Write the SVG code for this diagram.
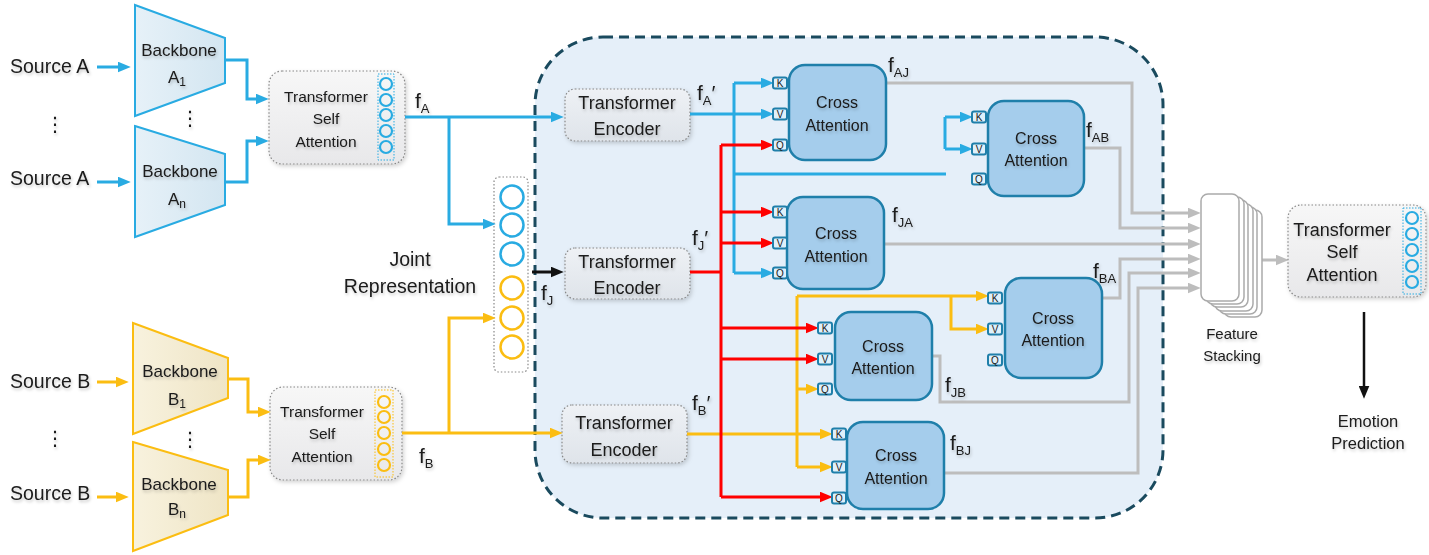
<svg xmlns="http://www.w3.org/2000/svg" width="1429" height="555" viewBox="0 0 1429 555">
<style>
text{font-family:"Liberation Sans",Arial,sans-serif;fill:#1a1a1a;text-anchor:middle}
.src{font-size:19.5px;text-anchor:start}
.bb{font-size:17px}
.sub{font-size:12px}
.tsa{font-size:15.5px}
.te{font-size:18px}
.jr{font-size:19.5px}
.ca{font-size:16px}
.lbl{font-size:21px;text-anchor:start}
.lbl .s{font-size:13px}
.port{font-size:10px}
.cap{font-size:15px}
.emo{font-size:16.5px}
.dots{font-family:"DejaVu Sans",sans-serif;font-size:20px}
.tb{fill:url(#gb);stroke:#888;stroke-width:1.2;stroke-dasharray:1.5 2}
.tsab{fill:url(#gg);stroke:#888;stroke-width:1.2;stroke-dasharray:1.5 2}
.cab{fill:#a5cdec;stroke:#1f7faa;stroke-width:2.5}
.pt{fill:#dff0fa;stroke:#1f7faa;stroke-width:2}
.ln{fill:none;stroke-width:3}
.b{stroke:#29abe2}
.y{stroke:#fbbd12}
.r{stroke:#ff0000}
.g{stroke:#bdbdbd}
.k{stroke:#111}
.sh{filter:url(#ts)}
</style>
<defs>
<filter id="ts" x="-20%" y="-30%" width="140%" height="160%"><feDropShadow dx="1" dy="2" stdDeviation="1.5" flood-color="#000" flood-opacity="0.22"/></filter>
<filter id="bs" x="-10%" y="-10%" width="130%" height="130%"><feDropShadow dx="1.5" dy="2" stdDeviation="2" flood-color="#000" flood-opacity="0.18"/></filter>
<linearGradient id="gb" x1="0" y1="0" x2="0" y2="1"><stop offset="0" stop-color="#eef1f5"/><stop offset="1" stop-color="#dfe4ea"/></linearGradient>
<linearGradient id="gg" x1="0" y1="0" x2="0" y2="1"><stop offset="0" stop-color="#f7f7f7"/><stop offset="1" stop-color="#e8e8ea"/></linearGradient>
<linearGradient id="gbl" x1="0" y1="0" x2="1" y2="0"><stop offset="0" stop-color="#e6f1f8"/><stop offset="1" stop-color="#d4e6f1"/></linearGradient>
<linearGradient id="gyl" x1="0" y1="0" x2="1" y2="0"><stop offset="0" stop-color="#f8f2de"/><stop offset="1" stop-color="#efe5c6"/></linearGradient>
<marker id="mb" viewBox="0 0 12 10" refX="3" refY="5" markerWidth="13" markerHeight="11" markerUnits="userSpaceOnUse" orient="auto"><path d="M0,0 L12,5 L0,10 z" fill="#29abe2"/></marker>
<marker id="my" viewBox="0 0 12 10" refX="3" refY="5" markerWidth="13" markerHeight="11" markerUnits="userSpaceOnUse" orient="auto"><path d="M0,0 L12,5 L0,10 z" fill="#fbbd12"/></marker>
<marker id="mr" viewBox="0 0 12 10" refX="3" refY="5" markerWidth="13" markerHeight="11" markerUnits="userSpaceOnUse" orient="auto"><path d="M0,0 L12,5 L0,10 z" fill="#ff0000"/></marker>
<marker id="mg" viewBox="0 0 12 10" refX="3" refY="5" markerWidth="13" markerHeight="11" markerUnits="userSpaceOnUse" orient="auto"><path d="M0,0 L12,5 L0,10 z" fill="#bdbdbd"/></marker>
<marker id="mk" viewBox="0 0 12 10" refX="3" refY="5" markerWidth="13" markerHeight="11" markerUnits="userSpaceOnUse" orient="auto"><path d="M0,0 L12,5 L0,10 z" fill="#111"/></marker>
</defs>

<rect width="1429" height="555" fill="#fff"/>

<g id="fusion-container">
<rect x="535" y="37" width="628" height="481" rx="68" fill="#e5eff9" stroke="#1a4a5e" stroke-width="3" stroke-dasharray="10 6"/>
</g>

<g id="sources" class="sh">
<text class="src" x="10" y="73">Source A</text>
<text class="src" x="10" y="185">Source A</text>
<text class="src" x="10" y="388">Source B</text>
<text class="src" x="10" y="500">Source B</text>
<text class="dots" x="55" y="131">⋮</text>
<text class="dots" x="190" y="125">⋮</text>
<text class="dots" x="55" y="445">⋮</text>
<text class="dots" x="190" y="446">⋮</text>
</g>

<g id="backbone-a1">
<polygon points="135,5 225,38 225,83 135,116" fill="url(#gbl)" stroke="#29abe2" stroke-width="2"/>
<text class="bb sh" x="179" y="56">Backbone</text>
<text class="bb sh" x="177" y="83">A<tspan class="sub" dy="3">1</tspan></text>
</g>
<g id="backbone-an">
<polygon points="135,126 225,154 225,205 135,237" fill="url(#gbl)" stroke="#29abe2" stroke-width="2"/>
<text class="bb sh" x="180" y="177">Backbone</text>
<text class="bb sh" x="177" y="205">A<tspan class="sub" dy="3">n</tspan></text>
</g>
<g id="backbone-b1">
<polygon points="133,323 228,358 228,398 133,434" fill="url(#gyl)" stroke="#fbbd12" stroke-width="2"/>
<text class="bb sh" x="180" y="377">Backbone</text>
<text class="bb sh" x="177" y="405">B<tspan class="sub" dy="3">1</tspan></text>
</g>
<g id="backbone-bn">
<polygon points="133,442 228,470 228,515 133,551" fill="url(#gyl)" stroke="#fbbd12" stroke-width="2"/>
<text class="bb sh" x="179" y="490">Backbone</text>
<text class="bb sh" x="177" y="515">B<tspan class="sub" dy="3">n</tspan></text>
</g>

<g id="tsa-a">
<rect class="tsab" x="269" y="71" width="136" height="93" rx="13" filter="url(#bs)"/>
<text class="tsa sh" x="326" y="102">Transformer</text>
<text class="tsa sh" x="326" y="124">Self</text>
<text class="tsa sh" x="326" y="147">Attention</text>
<rect x="378" y="74" width="16" height="86" fill="none" stroke="#29abe2" stroke-width="1" stroke-dasharray="1.5 1.5"/>
<g fill="none" stroke="#29abe2" stroke-width="2.2"><circle cx="386" cy="84" r="6"/><circle cx="386" cy="100" r="6"/><circle cx="386" cy="115" r="6"/><circle cx="386" cy="131" r="6"/><circle cx="386" cy="147" r="6"/></g>
</g>
<g id="tsa-b">
<rect class="tsab" x="270" y="387" width="132" height="93" rx="13" filter="url(#bs)"/>
<text class="tsa sh" x="322" y="417">Transformer</text>
<text class="tsa sh" x="322" y="439">Self</text>
<text class="tsa sh" x="322" y="462">Attention</text>
<rect x="375" y="390" width="18" height="87" fill="none" stroke="#fbbd12" stroke-width="1" stroke-dasharray="1.5 1.5"/>
<g fill="none" stroke="#fbbd12" stroke-width="2.2"><circle cx="384" cy="402" r="6"/><circle cx="384" cy="417" r="6"/><circle cx="384" cy="433" r="6"/><circle cx="384" cy="449" r="6"/><circle cx="384" cy="465" r="6"/></g>
</g>

<g id="joint-representation">
<text class="jr sh" x="410" y="266">Joint</text>
<text class="jr sh" x="410" y="293">Representation</text>
<rect x="494" y="177" width="34" height="195" rx="5" fill="#fff" stroke="#888" stroke-width="1.2" stroke-dasharray="1.5 2"/>
<g fill="none" stroke-width="2.5">
<circle cx="512" cy="197" r="11.5" stroke="#29abe2"/><circle cx="512" cy="225" r="11.5" stroke="#29abe2"/><circle cx="512" cy="254" r="11.5" stroke="#29abe2"/>
<circle cx="512" cy="288" r="11.5" stroke="#fbbd12"/><circle cx="512" cy="318" r="11.5" stroke="#fbbd12"/><circle cx="512" cy="347" r="11.5" stroke="#fbbd12"/>
</g>
</g>

<g id="te-a"><rect class="tb" x="565" y="89" width="125" height="52" rx="10" filter="url(#bs)"/><text class="te sh" x="627" y="109">Transformer</text><text class="te sh" x="627" y="135">Encoder</text></g>
<g id="te-j"><rect class="tb" x="565" y="248" width="125" height="51" rx="10" filter="url(#bs)"/><text class="te sh" x="627" y="268">Transformer</text><text class="te sh" x="627" y="294">Encoder</text></g>
<g id="te-b"><rect class="tb" x="562" y="405" width="125" height="58" rx="10" filter="url(#bs)"/><text class="te sh" x="624" y="429">Transformer</text><text class="te sh" x="624" y="456">Encoder</text></g>

<g id="connectors">
<g class="ln b">
<path d="M97,67 H121" marker-end="url(#mb)"/>
<path d="M97,182 H121" marker-end="url(#mb)"/>
<path d="M225,60 H247 V99 H259" marker-end="url(#mb)"/>
<path d="M225,182 H247 V141 H259" marker-end="url(#mb)"/>
<path d="M405,117 H554" marker-end="url(#mb)"/>
<path d="M449,117 V224 H486" marker-end="url(#mb)"/>
<path d="M690,114 H764" marker-end="url(#mb)"/>
<path d="M734,83 V273"/>
<path d="M734,83 H764" marker-end="url(#mb)"/>
<path d="M734,273 H764" marker-end="url(#mb)"/>
<path d="M734,174 H946"/>
<path d="M945,117 V149"/>
<path d="M945,117 H963" marker-end="url(#mb)"/>
<path d="M945,149 H963" marker-end="url(#mb)"/>
</g>
<g class="ln y">
<path d="M97,382 H119" marker-end="url(#my)"/>
<path d="M97,497 H119" marker-end="url(#my)"/>
<path d="M228,379 H248 V412 H261" marker-end="url(#my)"/>
<path d="M228,497 H248 V460 H261" marker-end="url(#my)"/>
<path d="M402,433 H553" marker-end="url(#my)"/>
<path d="M449,433 V318 H486" marker-end="url(#my)"/>
<path d="M687,434 H823" marker-end="url(#my)"/>
<path d="M797,296 V467"/>
<path d="M797,296 H979" marker-end="url(#my)"/>
<path d="M951,296 V329 H979" marker-end="url(#my)"/>
<path d="M797,389 H809" marker-end="url(#my)"/>
<path d="M797,467 H823" marker-end="url(#my)"/>
</g>
<g class="ln r">
<path d="M690,272 H721"/>
<path d="M721,145 V497"/>
<path d="M721,145 H764" marker-end="url(#mr)"/>
<path d="M721,212 H764" marker-end="url(#mr)"/>
<path d="M721,243 H764" marker-end="url(#mr)"/>
<path d="M721,328 H809" marker-end="url(#mr)"/>
<path d="M721,359 H809" marker-end="url(#mr)"/>
<path d="M721,497 H823" marker-end="url(#mr)"/>
</g>
<g class="ln k">
<path d="M532,272 H554" marker-end="url(#mk)"/>
<path d="M1364,312 V389" stroke-width="2.5" marker-end="url(#mk)"/>
</g>
<g class="ln g">
<path d="M886,83 H1132 V213 H1191" marker-end="url(#mg)"/>
<path d="M1084,148 H1120 V228 H1191" marker-end="url(#mg)"/>
<path d="M884,244 H1191" marker-end="url(#mg)"/>
<path d="M1102,298 H1120 V259 H1191" marker-end="url(#mg)"/>
<path d="M932,356 H940 V402 H1129 V273 H1191" marker-end="url(#mg)"/>
<path d="M944,473 H1138 V288 H1191" marker-end="url(#mg)"/>
<path d="M1262,260 H1279" marker-end="url(#mg)"/>
</g>
</g>

<g id="ca-aj">
<rect class="cab" x="789" y="65" width="97" height="95" rx="16"/>
<text class="ca sh" x="837" y="108">Cross</text><text class="ca sh" x="837" y="131">Attention</text>
<rect class="pt" x="773" y="77.5" width="14" height="11" rx="2"/><text class="port" x="780" y="86.5">K</text>
<rect class="pt" x="773" y="108.5" width="14" height="11" rx="2"/><text class="port" x="780" y="117.5">V</text>
<rect class="pt" x="773" y="139.5" width="14" height="11" rx="2"/><text class="port" x="780" y="148.5">Q</text>
</g>
<g id="ca-ja">
<rect class="cab" x="787" y="197" width="97" height="92" rx="16"/>
<text class="ca sh" x="836" y="239">Cross</text><text class="ca sh" x="836" y="262">Attention</text>
<rect class="pt" x="773" y="206.5" width="14" height="11" rx="2"/><text class="port" x="780" y="215.5">K</text>
<rect class="pt" x="773" y="237.5" width="14" height="11" rx="2"/><text class="port" x="780" y="246.5">V</text>
<rect class="pt" x="773" y="267.5" width="14" height="11" rx="2"/><text class="port" x="780" y="276.5">Q</text>
</g>
<g id="ca-ab">
<rect class="cab" x="988" y="101" width="96" height="95" rx="16"/>
<text class="ca sh" x="1036" y="144">Cross</text><text class="ca sh" x="1036" y="166">Attention</text>
<rect class="pt" x="972" y="111.5" width="14" height="11" rx="2"/><text class="port" x="979" y="120.5">K</text>
<rect class="pt" x="972" y="143.5" width="14" height="11" rx="2"/><text class="port" x="979" y="152.5">V</text>
<rect class="pt" x="972" y="173.5" width="14" height="11" rx="2"/><text class="port" x="979" y="182.5">Q</text>
</g>
<g id="ca-ba">
<rect class="cab" x="1005" y="278" width="97" height="100" rx="16"/>
<text class="ca sh" x="1053" y="324">Cross</text><text class="ca sh" x="1053" y="346">Attention</text>
<rect class="pt" x="988" y="292.5" width="14" height="11" rx="2"/><text class="port" x="995" y="301.5">K</text>
<rect class="pt" x="988" y="323.5" width="14" height="11" rx="2"/><text class="port" x="995" y="332.5">V</text>
<rect class="pt" x="988" y="354.5" width="14" height="11" rx="2"/><text class="port" x="995" y="363.5">Q</text>
</g>
<g id="ca-jb">
<rect class="cab" x="835" y="312" width="97" height="88" rx="16"/>
<text class="ca sh" x="883" y="352">Cross</text><text class="ca sh" x="883" y="374">Attention</text>
<rect class="pt" x="818" y="322.5" width="14" height="11" rx="2"/><text class="port" x="825" y="331.5">K</text>
<rect class="pt" x="818" y="353.5" width="14" height="11" rx="2"/><text class="port" x="825" y="362.5">V</text>
<rect class="pt" x="818" y="383.5" width="14" height="11" rx="2"/><text class="port" x="825" y="392.5">Q</text>
</g>
<g id="ca-bj">
<rect class="cab" x="847" y="422" width="97" height="87" rx="16"/>
<text class="ca sh" x="896" y="461">Cross</text><text class="ca sh" x="896" y="484">Attention</text>
<rect class="pt" x="832" y="428.5" width="14" height="11" rx="2"/><text class="port" x="839" y="437.5">K</text>
<rect class="pt" x="832" y="461.5" width="14" height="11" rx="2"/><text class="port" x="839" y="470.5">V</text>
<rect class="pt" x="832" y="492.5" width="14" height="11" rx="2"/><text class="port" x="839" y="501.5">Q</text>
</g>

<g id="labels" class="sh">
<text class="lbl" x="415" y="108">f<tspan class="s" dy="5">A</tspan></text>
<text class="lbl" x="419" y="463">f<tspan class="s" dy="5">B</tspan></text>
<text class="lbl" x="541" y="300">f<tspan class="s" dy="5">J</tspan></text>
<text class="lbl" x="697" y="100">f<tspan class="s" dy="5">A</tspan><tspan dy="-5">′</tspan></text>
<text class="lbl" x="692" y="245">f<tspan class="s" dy="5">J</tspan><tspan dy="-5">′</tspan></text>
<text class="lbl" x="692" y="410">f<tspan class="s" dy="5">B</tspan><tspan dy="-5">′</tspan></text>
<text class="lbl" x="888" y="72">f<tspan class="s" dy="5">AJ</tspan></text>
<text class="lbl" x="892" y="222">f<tspan class="s" dy="5">JA</tspan></text>
<text class="lbl" x="1086" y="137">f<tspan class="s" dy="5">AB</tspan></text>
<text class="lbl" x="1093" y="278">f<tspan class="s" dy="5">BA</tspan></text>
<text class="lbl" x="945" y="392">f<tspan class="s" dy="5">JB</tspan></text>
<text class="lbl" x="950" y="450">f<tspan class="s" dy="5">BJ</tspan></text>
</g>

<g id="feature-stacking">
<g fill="#fff" stroke="#aaa" stroke-width="1.5">
<rect x="1224" y="210" width="38" height="107" rx="7"/>
<rect x="1219" y="207" width="38" height="107" rx="7"/>
<rect x="1215" y="204" width="38" height="107" rx="7"/>
<rect x="1210" y="200" width="38" height="107" rx="7"/>
<rect x="1206" y="197" width="38" height="107" rx="7"/>
<rect x="1201" y="194" width="38" height="107" rx="7"/>
</g>
<text class="cap sh" x="1232" y="339">Feature</text>
<text class="cap sh" x="1232" y="361">Stacking</text>
</g>

<g id="tsa-out">
<rect class="tsab" x="1288" y="205" width="138" height="92" rx="13" filter="url(#bs)"/>
<text class="te sh" x="1342" y="236">Transformer</text>
<text class="te sh" x="1342" y="258">Self</text>
<text class="te sh" x="1342" y="281">Attention</text>
<rect x="1403" y="208" width="18" height="86" fill="none" stroke="#29abe2" stroke-width="1" stroke-dasharray="1.5 1.5"/>
<g fill="none" stroke="#29abe2" stroke-width="2.2"><circle cx="1412" cy="218" r="6"/><circle cx="1412" cy="234" r="6"/><circle cx="1412" cy="250" r="6"/><circle cx="1412" cy="266" r="6"/><circle cx="1412" cy="282" r="6"/></g>
</g>

<g id="emotion-prediction">
<text class="emo sh" x="1368" y="427">Emotion</text>
<text class="emo sh" x="1368" y="449">Prediction</text>
</g>
</svg>
